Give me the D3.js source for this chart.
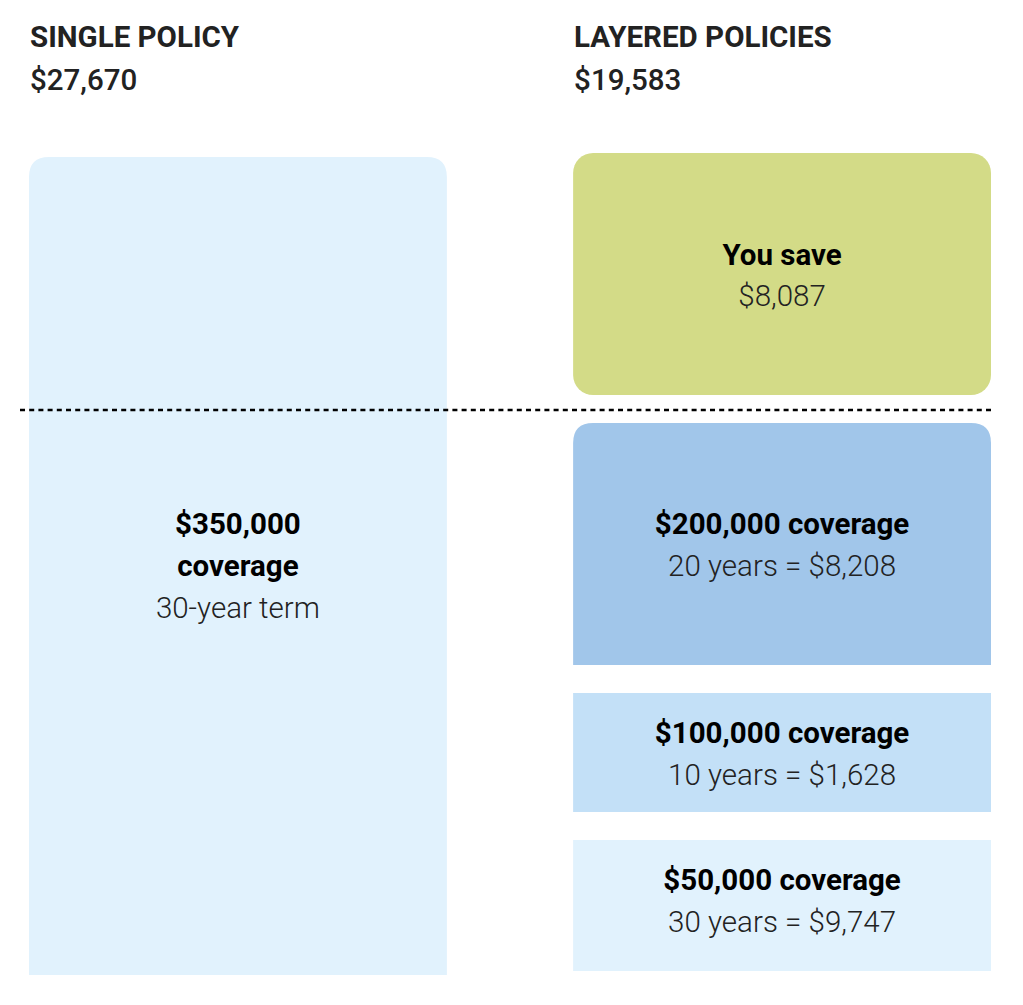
<!DOCTYPE html>
<html>
<head>
<meta charset="utf-8">
<script src="https://cdn.jsdelivr.net/npm/d3@7"></script>
<style>
  html, body { margin: 0; padding: 0; background: #fff; }
  svg { display: block; font-family: Roboto, "Noto Sans", sans-serif; }
</style>
</head>
<body>
<svg id="chart" width="1023" height="1005"></svg>
<script>
// ---- data ----
const columns = ["single", "layered"];
const columnTitles = ["SINGLE POLICY", "LAYERED POLICIES"];
const columnTotals = [27670, 19583];
const savings = 8087;
const singleCoverage = 350000;
const singleTerm = 30;
const layerCoverage = [200000, 100000, 50000];
const layerYears = [20, 10, 30];
const layerCost = [8208, 1628, 9747];

// ---- styles ----
const fmt = d3.format(",");
const FS = 29.5;
const colors = {
  single: "#E1F2FD",
  save: "#D3DB87",
  layers: ["#A1C6EA", "#C3E0F7", "#E1F2FD"]
};

const svg = d3.select("#chart");

const x = d3.scaleBand().domain(columns).range([29, 991]).paddingInner(0.232).paddingOuter(0);
const bw = x.bandwidth();
const r = 20;

function topRounded(x0, y0, w, h, rad) {
  return `M${x0},${y0 + h}V${y0 + rad}Q${x0},${y0} ${x0 + rad},${y0}H${x0 + w - rad}Q${x0 + w},${y0} ${x0 + w},${y0 + rad}V${y0 + h}Z`;
}

// headers
columns.forEach((c, i) => {
  const hx = x(c) + 1;
  svg.append("text").attr("x", hx).attr("y", 47)
    .attr("font-size", FS).attr("font-weight", 700).attr("fill", "#222")
    .text(columnTitles[i]);
  svg.append("text").attr("x", hx).attr("y", 90)
    .attr("font-size", FS).attr("font-weight", 500).attr("fill", "#222")
    .text("$" + fmt(columnTotals[i]));
});

// single policy box
const sTop = 157, sBot = 975;
svg.append("path")
  .attr("d", topRounded(x("single"), sTop, bw, sBot - sTop, r))
  .attr("fill", colors.single);

const scx = x("single") + bw / 2;
const singleLines = [
  { t: "$" + fmt(singleCoverage), w: 700, y: 534 },
  { t: "coverage", w: 700, y: 576 },
  { t: singleTerm + "-year term", w: 300, y: 618 }
];
singleLines.forEach(l => {
  svg.append("text").attr("x", scx).attr("y", l.y).attr("text-anchor", "middle")
    .attr("font-size", FS).attr("font-weight", l.w).attr("fill", l.w === 700 ? "#000" : "#222")
    .text(l.t);
});

// layered column
const lx = x("layered");
const lcx = lx + bw / 2;

// savings box
const saveTop = 153, saveBot = 395;
svg.append("rect").attr("x", lx).attr("y", saveTop).attr("width", bw).attr("height", saveBot - saveTop)
  .attr("rx", r).attr("ry", r).attr("fill", colors.save);
svg.append("text").attr("x", lcx).attr("y", 265).attr("text-anchor", "middle")
  .attr("font-size", FS).attr("font-weight", 700).attr("fill", "#000").text("You save");
svg.append("text").attr("x", lcx).attr("y", 306).attr("text-anchor", "middle")
  .attr("font-size", FS).attr("font-weight", 300).attr("fill", "#222").text("$" + fmt(savings));

// dotted divider
svg.append("line").attr("x1", 20).attr("x2", 993).attr("y1", 410).attr("y2", 410)
  .attr("stroke", "#000").attr("stroke-width", 2.6).attr("stroke-dasharray", "5,4.2");

// layer boxes
const layerBoxes = [
  { top: 423, bot: 665, rounded: true },
  { top: 693, bot: 812, rounded: false },
  { top: 840, bot: 971, rounded: false }
];
layerCoverage.forEach((cov, i) => {
  const b = layerBoxes[i];
  if (b.rounded) {
    svg.append("path").attr("d", topRounded(lx, b.top, bw, b.bot - b.top, r)).attr("fill", colors.layers[i]);
  } else {
    svg.append("rect").attr("x", lx).attr("y", b.top).attr("width", bw).attr("height", b.bot - b.top)
      .attr("fill", colors.layers[i]);
  }
  const t1 = i === 0 ? 534 : b.top + 50;
  svg.append("text").attr("x", lcx).attr("y", t1).attr("text-anchor", "middle")
    .attr("font-size", FS).attr("font-weight", 700).attr("fill", "#000")
    .text("$" + fmt(cov) + " coverage");
  svg.append("text").attr("x", lcx).attr("y", t1 + 42).attr("text-anchor", "middle")
    .attr("font-size", FS).attr("font-weight", 300).attr("fill", "#222")
    .text(layerYears[i] + " years = $" + fmt(layerCost[i]));
});
</script>
</body>
</html>
